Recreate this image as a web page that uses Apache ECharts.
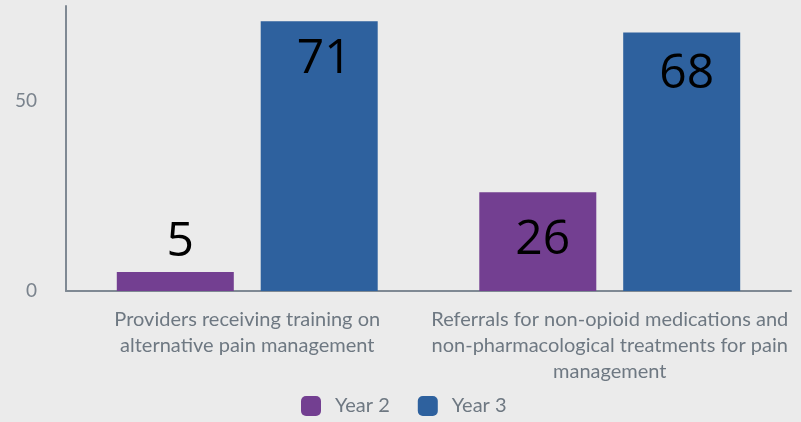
<!DOCTYPE html>
<html>
<head>
<meta charset="utf-8">
<script src="https://cdn.jsdelivr.net/npm/echarts@6/dist/echarts.min.js"></script>
<style>
    html, body { margin: 0; padding: 0; background: #ebebeb; }
    #main { width: 801px; height: 422px; }
</style>
</head>
<body>
<div id="main"></div>
<script>
// categories (line breaks as in the original labels)
var categories = [
    'Providers receiving training on\nalternative pain management',
    'Referrals for non-opioid medications and\nnon-pharmacological treatments for pain\nmanagement'
];
var seriesNames = ['Year 2', 'Year 3'];
var year2 = [5, 26];
var year3 = [71, 68];
var yTicks = [0, 50];

var colors = ['#733f91', '#2e619e'];

// value labels: short bars get the number above, tall ones inside
function valueLabel(pos, dist) {
    return {
        show: true,
        position: pos,
        distance: dist,
        offset: [5, 0],
        color: '#000',
        fontFamily: 'Open Sans',
        fontSize: 48
    };
}

var myChart = echarts.init(document.getElementById('main'));
myChart.setOption({
    backgroundColor: '#ebebeb',
    animation: false,
    color: colors,
    grid: {
        left: 66,
        right: 10,
        top: 6,
        bottom: 131,
        containLabel: false
    },
    legend: {
        data: seriesNames,
        bottom: 1,
        left: 296,
        padding: 5,
        itemWidth: 20,
        itemHeight: 20,
        itemGap: 28,
        icon: 'roundRect',
        textStyle: {
            fontFamily: 'Lato',
            fontSize: 20,
            color: '#6e7882',
            padding: [0, 0, 0, 9]
        }
    },
    xAxis: {
        type: 'category',
        data: categories,
        axisLine: { lineStyle: { color: '#7f8993', width: 2 } },
        axisTick: { show: false },
        axisLabel: {
            margin: 16,
            interval: 0,
            fontFamily: 'Lato',
            fontSize: 20,
            lineHeight: 26,
            color: '#6e7882',
            align: 'center'
        }
    },
    yAxis: {
        type: 'value',
        min: yTicks[0],
        max: 75,
        interval: yTicks[1] - yTicks[0],
        splitLine: { show: false },
        axisLine: { show: true, lineStyle: { color: '#7f8993', width: 2 } },
        axisTick: { show: false },
        axisLabel: {
            showMaxLabel: false,
            margin: 29,
            fontFamily: 'Lato',
            fontSize: 19,
            color: '#7a838d'
        }
    },
    series: [
        {
            name: seriesNames[0],
            type: 'bar',
            barWidth: 117,
            barGap: '23%',
            data: year2.map(function(v, i) {
                return {
                    value: v,
                    label: i === 0 ? valueLabel('top', 6) : valueLabel('insideTop', 24)
                };
            })
        },
        {
            name: seriesNames[1],
            type: 'bar',
            barWidth: 117,
            data: year3.map(function(v, i) {
                return {
                    value: v,
                    label: i === 0 ? valueLabel('insideTop', 14) : valueLabel('insideTop', 18)
                };
            })
        }
    ]
});
</script>
</body>
</html>
